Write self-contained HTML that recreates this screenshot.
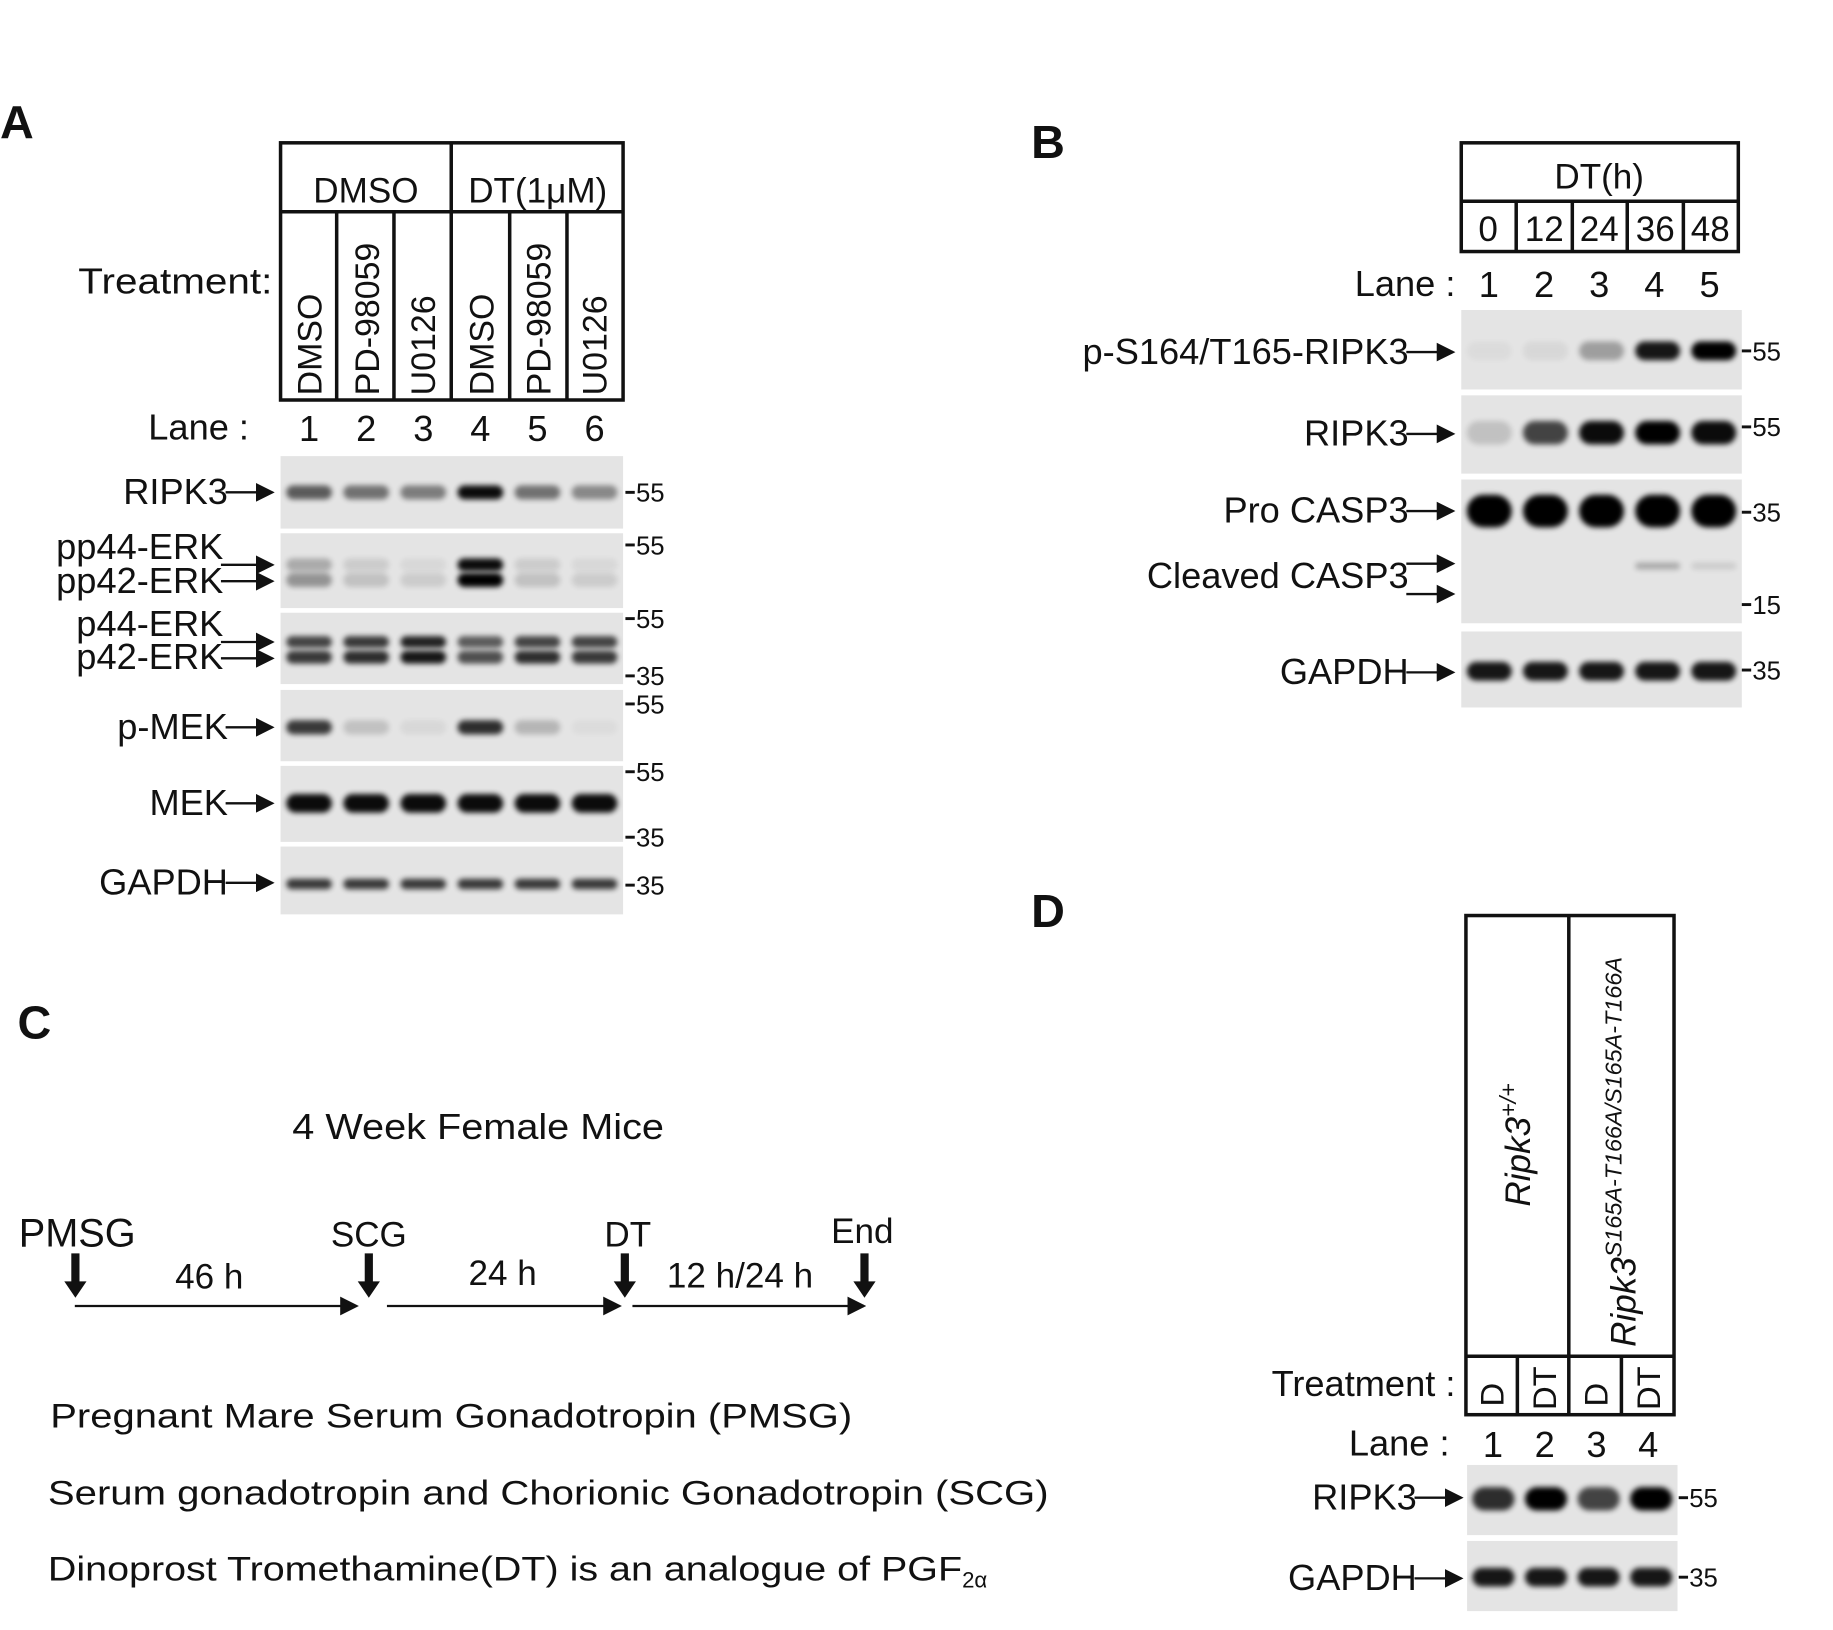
<!DOCTYPE html>
<html><head><meta charset="utf-8">
<style>
html,body{margin:0;padding:0;background:#fff;}
svg{display:block;}
text{font-family:"Liberation Sans",sans-serif;fill:#111;}
</style></head>
<body>
<svg id="fig" width="1833" height="1630" viewBox="0 0 1568 1394" xmlns="http://www.w3.org/2000/svg">
<defs>
<filter id="blur" x="-30%" y="-100%" width="160%" height="300%"><feGaussianBlur stdDeviation="2.2"/></filter>
<marker id="arr" markerWidth="8" markerHeight="8" refX="7" refY="4" orient="auto"><path d="M0,0 L8,4 L0,8 z" fill="#111"/></marker>
</defs>

<!-- Panel A -->
<text x="0" y="118" font-size="40" font-weight="bold">A</text>
<g stroke="#111" stroke-width="3" fill="none">
<rect x="240" y="122" width="293" height="220"/>
<line x1="240" y1="181" x2="533" y2="181"/>
<line x1="386" y1="122" x2="386" y2="342"/>
<line x1="288" y1="181" x2="288" y2="342"/><line x1="337" y1="181" x2="337" y2="342"/>
<line x1="436" y1="181" x2="436" y2="342"/><line x1="485" y1="181" x2="485" y2="342"/>
</g>
<text x="313" y="173" font-size="30" text-anchor="middle">DMSO</text>
<text x="460" y="173" font-size="30" text-anchor="middle">DT(1μM)</text>
<g font-size="29">
<text transform="translate(275,338) rotate(-90)">DMSO</text>
<text transform="translate(324,338) rotate(-90)">PD-98059</text>
<text transform="translate(372,338) rotate(-90)">U0126</text>
<text transform="translate(422,338) rotate(-90)">DMSO</text>
<text transform="translate(471,338) rotate(-90)">PD-98059</text>
<text transform="translate(519,338) rotate(-90)">U0126</text>
</g>
<text x="233" y="251" font-size="31" text-anchor="end" textLength="166" lengthAdjust="spacingAndGlyphs">Treatment:</text>
<text x="213" y="376" font-size="31" text-anchor="end">Lane :</text>

<!-- Panel B -->
<text x="882" y="135" font-size="40" font-weight="bold">B</text>
<g stroke="#111" stroke-width="3" fill="none">
<rect x="1250" y="122" width="237" height="93"/>
<line x1="1250" y1="172" x2="1487" y2="172"/>
<line x1="1297" y1="172" x2="1297" y2="215"/><line x1="1345" y1="172" x2="1345" y2="215"/>
<line x1="1392" y1="172" x2="1392" y2="215"/><line x1="1440" y1="172" x2="1440" y2="215"/>
</g>
<text x="1368" y="161" font-size="30" text-anchor="middle">DT(h)</text>
<g font-size="30" text-anchor="middle">
<text x="1273" y="206">0</text>
<text x="1321" y="206">12</text>
<text x="1368" y="206">24</text>
<text x="1416" y="206">36</text>
<text x="1463" y="206">48</text>
</g>
<text x="1245" y="253" font-size="31" text-anchor="end">Lane :</text>

<!-- Panel C -->
<text x="15" y="888" font-size="40" font-weight="bold">C</text>
<text x="250" y="974" font-size="31" textLength="318" lengthAdjust="spacingAndGlyphs">4 Week Female Mice</text>
<text x="16" y="1066" font-size="34">PMSG</text>
<text x="283" y="1066" font-size="30">SCG</text>
<text x="517" y="1066" font-size="30">DT</text>
<text x="711" y="1063" font-size="30">End</text>
<g stroke="#111" stroke-width="2">
<line x1="64" y1="1117" x2="305" y2="1117" marker-end="url(#arr)"/>
<line x1="331" y1="1117" x2="530" y2="1117" marker-end="url(#arr)"/>
<line x1="541" y1="1117" x2="739" y2="1117" marker-end="url(#arr)"/>
</g>
<g fill="#111">
<path d="M61,1072h7v24h6l-9.5,14l-9.5,-14h6z"/>
<path d="M312,1072h7v24h6l-9.5,14l-9.5,-14h6z"/>
<path d="M531,1072h7v24h6l-9.5,14l-9.5,-14h6z"/>
<path d="M736,1072h7v24h6l-9.5,14l-9.5,-14h6z"/>
</g>
<text x="179" y="1102" font-size="30" text-anchor="middle">46 h</text>
<text x="430" y="1099" font-size="30" text-anchor="middle">24 h</text>
<text x="633" y="1101" font-size="30" text-anchor="middle">12 h/24 h</text>
<text x="43" y="1221" font-size="29" textLength="686" lengthAdjust="spacingAndGlyphs">Pregnant Mare Serum Gonadotropin (PMSG)</text>
<text x="41" y="1287" font-size="29" textLength="856" lengthAdjust="spacingAndGlyphs">Serum gonadotropin and Chorionic Gonadotropin (SCG)</text>
<text x="41" y="1352" font-size="29"><tspan textLength="782" lengthAdjust="spacingAndGlyphs">Dinoprost Tromethamine(DT) is an analogue of PGF</tspan><tspan font-size="19" dy="6">2α</tspan></text>

<!-- Panel D -->
<text x="882" y="793" font-size="40" font-weight="bold">D</text>
<g stroke="#111" stroke-width="3" fill="none">
<rect x="1254" y="783" width="178" height="427"/>
<line x1="1342" y1="783" x2="1342" y2="1210"/>
<line x1="1254" y1="1160" x2="1432" y2="1160"/>
<line x1="1298" y1="1160" x2="1298" y2="1210"/><line x1="1387" y1="1160" x2="1387" y2="1210"/>
</g>
<text transform="translate(1309,1032) rotate(-90)" font-size="30" font-style="italic">Ripk3<tspan font-size="20" dy="-12">+/+</tspan></text>
<text transform="translate(1399,1152) rotate(-90)" font-size="30" font-style="italic">Ripk3<tspan font-size="20" dy="-12">S165A-T166A/S165A-T166A</tspan></text>
<g font-size="28">
<text transform="translate(1286,1203) rotate(-90)">D</text>
<text transform="translate(1331,1206) rotate(-90)">DT</text>
<text transform="translate(1375,1203) rotate(-90)">D</text>
<text transform="translate(1420,1206) rotate(-90)">DT</text>
</g>
<text x="1245" y="1194" font-size="31" text-anchor="end">Treatment :</text>
<text x="1240" y="1245" font-size="31" text-anchor="end">Lane :</text>

<g id="blots"></g>
</svg>
<script>
// Band intensity data (0..1 darkness) per lane
const ripk3A  = [0.6, 0.5, 0.45, 0.95, 0.5, 0.4];
const pp44A   = [0.25, 0.1, 0.05, 0.95, 0.1, 0.05];
const pp42A   = [0.35, 0.15, 0.1, 1.0, 0.15, 0.1];
const p44A    = [0.7, 0.75, 0.85, 0.6, 0.7, 0.7];
const p42A    = [0.75, 0.8, 0.9, 0.65, 0.8, 0.75];
const pmekA   = [0.75, 0.15, 0.05, 0.8, 0.2, 0.03];
const mekA    = [0.95, 0.95, 0.95, 0.95, 0.95, 0.95];
const gapdhA  = [0.75, 0.75, 0.75, 0.75, 0.75, 0.75];
const pripk3B = [0.03, 0.05, 0.3, 0.9, 1.0];
const ripk3B  = [0.15, 0.7, 0.95, 1.0, 0.95];
const procasp3B = [1, 1, 1, 1, 1];
const cleavedB  = [0, 0, 0, 0.25, 0.1];
const gapdhB  = [0.9, 0.9, 0.9, 0.9, 0.9];
const ripk3D  = [0.8, 1.0, 0.7, 1.0];
const gapdhD  = [0.9, 0.9, 0.9, 0.9];
const lanesA = ["1","2","3","4","5","6"];
const lanesB = ["1","2","3","4","5"];
const lanesD = ["1","2","3","4"];

const NS="http://www.w3.org/2000/svg";
const root=document.getElementById('blots');
function mk(tag,attrs,parent){const e=document.createElementNS(NS,tag);for(const k in attrs)e.setAttribute(k,attrs[k]);(parent||root).appendChild(e);return e;}
function laneX(x0,x1,n,i){const w=(x1-x0)/n;return x0+w*(i+0.5);}

function laneNums(x0,x1,labels,y,name){
  labels.forEach((l,i)=>{
    const t=mk('text',{x:laneX(x0,x1,labels.length,i),y:y,'font-size':31,'text-anchor':'middle'});
    
    
    t.textContent=l;
  });
}
laneNums(240,533,lanesA,377,'a');
laneNums(1250,1486,lanesB,254,'b');
laneNums(1255,1432,lanesD,1246,'d');

function panel(x0,x1,y0,y1,name){
  const r=mk('rect',{x:x0,y:y0,width:x1-x0,height:y1-y0,fill:'#e4e4e4'});
  
  
}
function bands(x0,x1,vals,y,h,name){
  const n=vals.length,w=(x1-x0)/n;
  vals.forEach((v,i)=>{
    if(v<=0)return;
    const b=mk('rect',{x:laneX(x0,x1,n,i)-w*0.4,y:y-h/2,width:w*0.8,height:h,rx:h/2,fill:'#000',opacity:v,filter:'url(#blur)'});
    
    
  });
}
function label(text,xEnd,y,name,arrowLen,textY){
  const L=arrowLen||40;
  const t=mk('text',{x:xEnd-L+2,y:(textY!==undefined?textY:y)+10,'font-size':31,'text-anchor':'end'});
  
  
  t.textContent=text;
  const a=mk('line',{x1:xEnd-L,y1:y,x2:xEnd,y2:y,stroke:'#111','stroke-width':2,'marker-end':'url(#arr)'});
  
  
}
function mw(x,y,txt){
  mk('line',{x1:x,y1:y,x2:x+8,y2:y,stroke:'#111','stroke-width':2.5});
  const t=mk('text',{x:x+9,y:y+8,'font-size':22});
  
  
  t.textContent=txt;
}

// Panel A blots
panel(240,533,390,452,'a-ripk3'); bands(240,533,ripk3A,421,12,'a-ripk3'); label('RIPK3',233,421,'a-ripk3'); mw(535,421,'55');
panel(240,533,456,520,'a-pperk'); bands(240,533,pp44A,483,11,'a-pp44'); bands(240,533,pp42A,496,12,'a-pp42');
label('pp44-ERK',233,483,'a-pp44',44,468); label('pp42-ERK',233,497,'a-pp42',44,497); mw(535,466,'55');
panel(240,533,524,585,'a-perk'); bands(240,533,p44A,549,10,'a-p44'); bands(240,533,p42A,562,11,'a-p42');
label('p44-ERK',233,549,'a-p44',44,534); label('p42-ERK',233,563,'a-p42',44,562); mw(535,529,'55'); mw(535,578,'35');
panel(240,533,590,651,'a-pmek'); bands(240,533,pmekA,622,12,'a-pmek'); label('p-MEK',233,622,'a-pmek'); mw(535,602,'55');
panel(240,533,655,720,'a-mek'); bands(240,533,mekA,687,16,'a-mek'); label('MEK',233,687,'a-mek'); mw(535,660,'55'); mw(535,716,'35');
panel(240,533,724,782,'a-gapdh'); bands(240,533,gapdhA,756,9,'a-gapdh'); label('GAPDH',233,755,'a-gapdh'); mw(535,757,'35');

// Panel B blots
panel(1250,1490,265,333,'b-pripk3'); bands(1250,1490,pripk3B,300,16,'b-pripk3'); label('p-S164/T165-RIPK3',1243,301,'b-pripk3'); mw(1490,300,'55');
panel(1250,1490,338,405,'b-ripk3'); bands(1250,1490,ripk3B,370,20,'b-ripk3'); label('RIPK3',1243,371,'b-ripk3'); mw(1490,365,'55');
panel(1250,1490,410,533,'b-casp3'); bands(1250,1490,procasp3B,437,28,'b-procasp3'); bands(1250,1490,cleavedB,484,6,'b-cleaved');
label('Pro CASP3',1243,437,'b-procasp3'); label('Cleaved CASP3',1243,482,'b-cleaved',40,493);
const a2=mk('line',{x1:1203,y1:508,x2:1243,y2:508,stroke:'#111','stroke-width':2,'marker-end':'url(#arr)'});


mw(1490,438,'35'); mw(1490,517,'15');
panel(1250,1490,540,605,'b-gapdh'); bands(1250,1490,gapdhB,574,16,'b-gapdh'); label('GAPDH',1243,575,'b-gapdh'); mw(1490,573,'35');

// Panel D blots
panel(1255,1435,1253,1313,'d-ripk3'); bands(1255,1435,ripk3D,1282,20,'d-ripk3'); label('RIPK3',1250,1281,'d-ripk3'); mw(1436,1281,'55');
panel(1255,1435,1318,1378,'d-gapdh'); bands(1255,1435,gapdhD,1349,16,'d-gapdh'); label('GAPDH',1250,1350,'d-gapdh'); mw(1436,1349,'35');
</script>
</body></html>
